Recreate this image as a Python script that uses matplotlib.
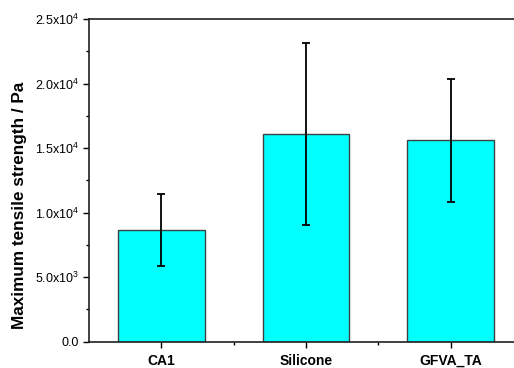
import matplotlib.pyplot as plt
import numpy as np
from matplotlib.ticker import MultipleLocator, FixedLocator

plt.rcParams['font.family'] = ['Liberation Sans', 'DejaVu Sans']
plt.rcParams['mathtext.fontset'] = 'custom'
plt.rcParams['mathtext.rm'] = 'Liberation Sans'

# data
samples = ['CA1', 'Silicone', 'GFVA_TA']
strength = [8650, 16110, 15600]
strength_err = [2810, 7040, 4750]
yticks = [0, 5000, 10000, 15000, 20000, 25000]
ytick_labels = ['0.0', r'5.0x10$^3$', r'1.0x10$^4$', r'1.5x10$^4$', r'2.0x10$^4$', r'2.5x10$^4$']

fig = plt.figure(figsize=(5.14, 3.68), dpi=100)
ax = fig.add_axes([89 / 514, (368 - 341.7) / 368, 434 / 514, 322.7 / 368])

x = np.arange(len(samples))
ax.bar(x, strength, width=0.6, color='#00FFFF', edgecolor='#404040', linewidth=1.0,
       yerr=strength_err, capsize=3, error_kw=dict(ecolor='black', elinewidth=1.3, capthick=1.3))

ax.set_xlim(-0.5, 2.5)
ax.set_ylim(0, 25000)
ax.set_xticks(x)
ax.set_xticklabels(samples, fontsize=10, fontweight='bold')
ax.xaxis.set_minor_locator(FixedLocator([0.5, 1.5]))
ax.set_yticks(yticks)
ax.set_yticklabels(ytick_labels, fontsize=9)
ax.yaxis.set_minor_locator(MultipleLocator(2500))

ax.tick_params(axis='both', which='major', direction='out', length=4, width=1)
ax.tick_params(axis='both', which='minor', direction='out', length=2.5, width=1)
ax.tick_params(axis='x', pad=5)
ax.tick_params(axis='y', pad=3)

ax.set_ylabel('Maximum tensile strength / Pa', fontsize=12.3, fontweight='bold')
ax.yaxis.set_label_coords(-0.143, 0.424)

for s in ['top', 'right', 'bottom', 'left']:
    ax.spines[s].set_linewidth(1.2)
    ax.spines[s].set_color('#202020')

plt.savefig('out.png', dpi=100)
